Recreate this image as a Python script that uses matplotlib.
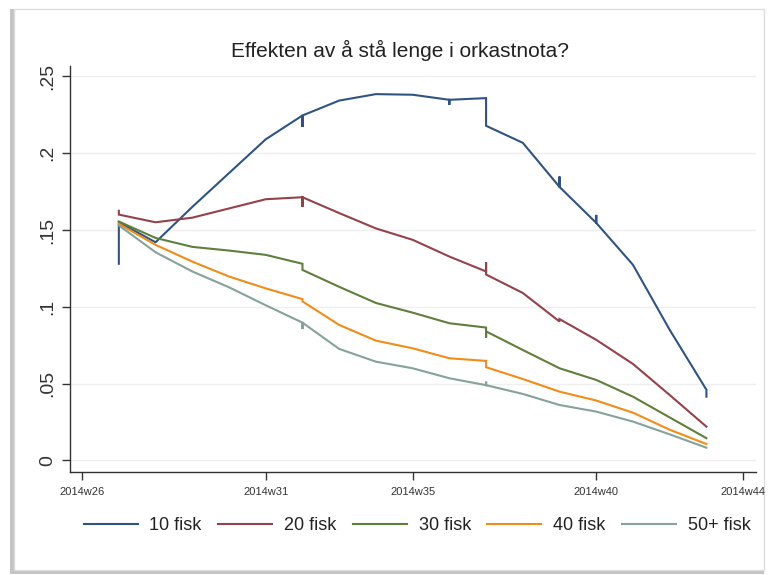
import matplotlib
matplotlib.use('Agg')
import matplotlib.pyplot as plt
from matplotlib.patches import Rectangle

plt.rcParams['font.family'] = ['Liberation Sans', 'DejaVu Sans']

title = 'Effekten av å stå lenge i orkastnota?'
labels = ['10 fisk', '20 fisk', '30 fisk', '40 fisk', '50+ fisk']
colors = ['#2f5481', '#94424a', '#5f7f3c', '#f08c1a', '#86a29b']

# week numbers (repeated weeks give the short vertical jumps)
weeks_10 = [27, 27, 28, 29, 30, 31, 32, 32, 32, 33, 34, 35, 36, 36, 36, 37, 37, 38, 39, 39, 39, 40, 40, 40, 41, 42, 43, 43]
fisk_10 = [0.128, 0.155, 0.142, 0.165, 0.187, 0.209, 0.2245, 0.217, 0.2245, 0.2342, 0.2384, 0.238, 0.2347, 0.2314, 0.2347,
           0.2358, 0.2178, 0.2067, 0.178, 0.1848, 0.178, 0.1546, 0.1598, 0.1546, 0.1273, 0.085, 0.046, 0.0415]

weeks_20 = [27, 27, 28, 29, 30, 31, 32, 32, 32, 33, 34, 35, 36, 37, 37, 37, 38, 39, 39, 40, 41, 42, 43]
fisk_20 = [0.1625, 0.160, 0.155, 0.158, 0.164, 0.170, 0.1713, 0.165, 0.1713, 0.161, 0.151, 0.1436, 0.1327,
           0.123, 0.129, 0.121, 0.109, 0.0904, 0.092, 0.0785, 0.0628, 0.0426, 0.022]

weeks_30 = [27, 28, 29, 30, 31, 32, 32, 33, 34, 35, 36, 37, 37, 37, 38, 39, 40, 41, 42, 43]
fisk_30 = [0.1555, 0.1448, 0.139, 0.1366, 0.1338, 0.128, 0.124, 0.113, 0.1025, 0.0962, 0.0893,
           0.0865, 0.080, 0.084, 0.0719, 0.060, 0.0524, 0.0415, 0.028, 0.0145]

weeks_40 = [27, 28, 29, 30, 31, 32, 32, 33, 34, 35, 36, 37, 37, 38, 39, 40, 41, 42, 43]
fisk_40 = [0.154, 0.1403, 0.1294, 0.1197, 0.112, 0.105, 0.1035, 0.0882, 0.078, 0.073, 0.0665,
           0.0648, 0.0607, 0.053, 0.0448, 0.039, 0.0311, 0.020, 0.0107]

weeks_50 = [27, 28, 29, 30, 31, 32, 32, 32, 33, 34, 35, 36, 37, 37, 37, 38, 39, 40, 41, 42, 43]
fisk_50 = [0.153, 0.1355, 0.123, 0.1127, 0.101, 0.0897, 0.0855, 0.0897, 0.0726, 0.0643, 0.060, 0.0535,
           0.049, 0.0513, 0.049, 0.0433, 0.0361, 0.0318, 0.0253, 0.017, 0.0083]

xticks = [26, 31, 35, 40, 44]
xticklabels = ['2014w26', '2014w31', '2014w35', '2014w40', '2014w44']
yticks = [0, 0.05, 0.1, 0.15, 0.2, 0.25]
yticklabels = ['0', '.05', '.1', '.15', '.2', '.25']

fig = plt.figure(figsize=(7.76, 5.75), dpi=100)

# outer frame with shadow
fig.patches.append(Rectangle((10 / 776, 1 - 574 / 575), 754 / 776, 565 / 575, transform=fig.transFigure,
                             facecolor='#c4c4c4', edgecolor='none', zorder=-2))
fig.patches.append(Rectangle((14 / 776, 1 - 570 / 575), 750 / 776, 561 / 575, transform=fig.transFigure,
                             facecolor='white', edgecolor='#dcdcdc', lw=1, zorder=-1))

ax = fig.add_axes([70 / 776, 1 - 472 / 575, 686 / 776, 406 / 575])
ax.set_facecolor('none')

series = [(weeks_10, fisk_10), (weeks_20, fisk_20), (weeks_30, fisk_30), (weeks_40, fisk_40), (weeks_50, fisk_50)]
for (w, v), lab, c in zip(series, labels, colors):
    ax.plot(w, v, color=c, lw=1.5, label=lab, solid_joinstyle='miter')

ax.set_xlim(25.67, 44.35)
ax.set_ylim(-0.0075, 0.2567)
ax.set_xticks(xticks)
ax.set_xticklabels(xticklabels, fontsize=8, color='#333333')
ax.set_yticks(yticks)
ax.set_yticklabels(yticklabels, fontsize=14, rotation=90, va='center', color='#222222')
for y in yticks:
    ax.axhline(y, color='#efefef', lw=1, zorder=0)

for s in ['top', 'right']:
    ax.spines[s].set_visible(False)
for s in ['left', 'bottom']:
    ax.spines[s].set_color('#333333')
    ax.spines[s].set_linewidth(1)
ax.tick_params(axis='both', colors='#333333', length=6, width=1)
ax.tick_params(axis='y', pad=4)
ax.tick_params(axis='x', pad=5)

fig.text(400 / 776, 1 - 50 / 575, title, ha='center', va='center', fontsize=15, color='#222222')

leg = fig.legend(*ax.get_legend_handles_labels(), loc='center', bbox_to_anchor=(417 / 776, 1 - 526 / 575),
                 ncol=5, frameon=False, fontsize=13, handlelength=3.0, columnspacing=0.9, handletextpad=0.65,
                 borderpad=0, borderaxespad=0)
for t in leg.get_texts():
    t.set_color('#222222')

fig.savefig('out.png', dpi=100)
